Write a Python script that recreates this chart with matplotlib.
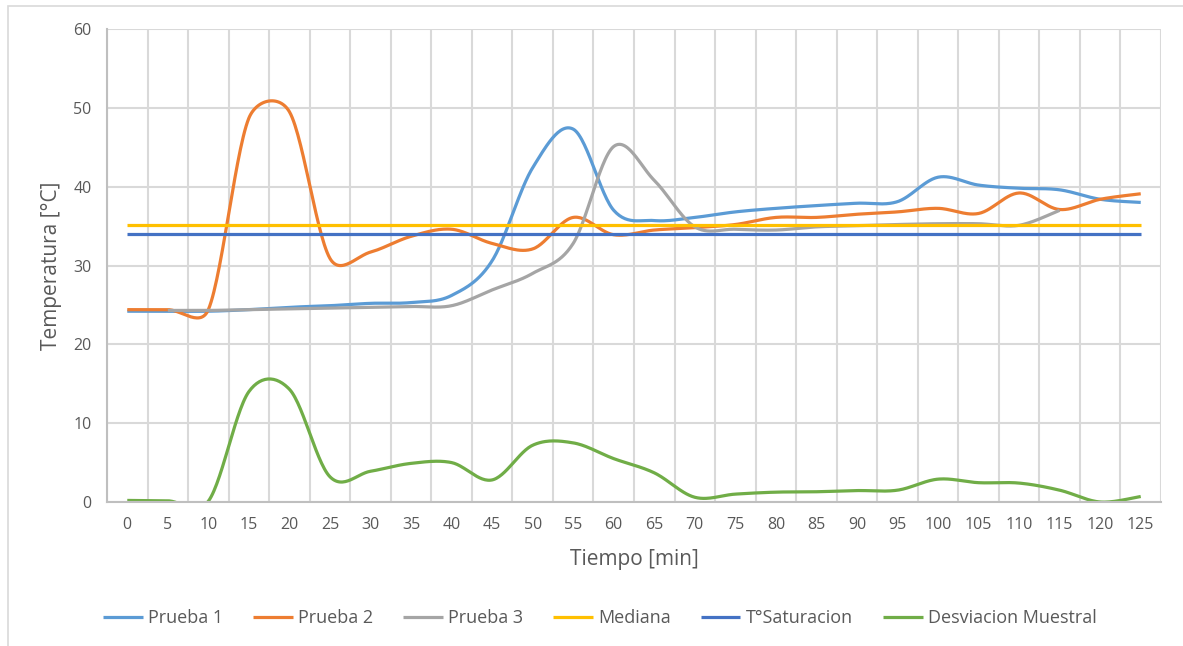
import matplotlib
matplotlib.use('Agg')
import matplotlib.pyplot as plt
import numpy as np
from matplotlib.patches import Rectangle

nan = np.nan

tiempo = [0, 5, 10, 15, 20, 25, 30, 35, 40, 45, 50, 55, 60,
          65, 70, 75, 80, 85, 90, 95, 100, 105, 110, 115, 120, 125]

prueba_1 = [24.2, 24.2, 24.2, 24.4, 24.7, 24.9, 25.2, 25.3, 26.2, 30.6, 42.4, 47.3, 37.0,
            35.7, 36.1, 36.8, 37.25, 37.6, 37.9, 38.1, 41.2, 40.2, 39.8, 39.6, 38.4, 38.0]
prueba_2 = [24.4, 24.4, 24.4, 48.7, 49.5, 30.9, 31.7, 33.7, 34.6, 32.8, 32.1, 36.1, 33.9,
            34.5, 34.8, 35.2, 36.1, 36.1, 36.5, 36.8, 37.25, 36.6, 39.2, 37.1, 38.4, 39.1]
prueba_3 = [nan, 24.3, 24.3, 24.4, 24.5, 24.6, 24.7, 24.8, 24.9, 26.9, 29.0, 32.8, 45.1,
            40.8, 34.9, 34.6, 34.5, 34.9, 35.05, 35.2, 35.3, 35.3, 35.1, 37.0, nan, nan]
mediana = [35.1, 35.1, 35.1, 35.1, 35.1, 35.1, 35.1, 35.1, 35.1, 35.1, 35.1, 35.1, 35.1,
           35.1, 35.1, 35.1, 35.1, 35.1, 35.1, 35.1, 35.1, 35.1, 35.1, 35.1, 35.1, 35.1]
t_saturacion = [34.0, 34.0, 34.0, 34.0, 34.0, 34.0, 34.0, 34.0, 34.0, 34.0, 34.0, 34.0, 34.0,
                34.0, 34.0, 34.0, 34.0, 34.0, 34.0, 34.0, 34.0, 34.0, 34.0, 34.0, 34.0, 34.0]
desviacion = [0.2, 0.15, 0.1, 14.0, 14.3, 3.2, 3.9, 4.9, 5.0, 2.8, 7.2, 7.5, 5.5,
              3.7, 0.6, 1.0, 1.25, 1.3, 1.45, 1.5, 2.9, 2.45, 2.4, 1.5, 0.0, 0.7]

series = [
    ('Prueba 1', prueba_1, '#5B9BD5'),
    ('Prueba 2', prueba_2, '#ED7D31'),
    ('Prueba 3', prueba_3, '#A5A5A5'),
    ('Mediana', mediana, '#FFC000'),
    ('T°Saturacion', t_saturacion, '#4472C4'),
    ('Desviacion Muestral', desviacion, '#70AD47'),
]

TXT = '#595959'
GRID = '#D9D9D9'

plt.rcParams['font.family'] = ['Open Sans', 'DejaVu Sans']

fig = plt.figure(figsize=(11.83, 6.46), dpi=100)
ax = fig.add_axes([107 / 1183, 1 - 502 / 646, 1054 / 1183, 473 / 646])

# outer chart frame (left and top edges only)
fig.patches.append(Rectangle((8 / 1183, -0.1), 1.2, 1.1 - 6 / 646, transform=fig.transFigure,
                             fill=False, edgecolor=GRID, linewidth=1.2))

n_cat = len(tiempo)
ax.set_xlim(-0.5, n_cat - 0.5)
ax.set_ylim(0, 60)
ax.set_yticks(np.arange(0, 61, 10))
ax.set_xticks(np.arange(n_cat))
ax.set_xticklabels([str(t) for t in tiempo])
ax.set_xticks(np.arange(n_cat + 1) - 0.5, minor=True)
ax.tick_params(axis='both', which='both', length=0, colors=TXT, labelsize=11.5)
ax.tick_params(axis='y', pad=11)
ax.tick_params(axis='x', pad=11)
ax.grid(True, axis='y', which='major', color=GRID, linewidth=1.5)
ax.grid(True, axis='x', which='minor', color=GRID, linewidth=1.5)
ax.set_axisbelow(True)
for side in ['top', 'right']:
    ax.spines[side].set_visible(False)
for side in ['left', 'bottom']:
    ax.spines[side].set_color('#BFBFBF')
    ax.spines[side].set_linewidth(1.5)

ax.set_xlabel('Tiempo [min]', color=TXT, fontsize=15, labelpad=11)
ax.set_ylabel('Temperatura [°C]', color=TXT, fontsize=15, labelpad=8)


def smooth_line(ys, steps=30):
    # Excel-style smoothed line: Catmull-Rom beziers in screen space,
    # control arms capped at half the segment length
    idx = np.arange(len(ys), dtype=float)
    pts = ax.transData.transform(np.column_stack([idx, np.asarray(ys, float)]))
    ok = np.isfinite(np.asarray(ys, float))
    t = np.linspace(0, 1, steps)[:, None]
    out = []
    i = 0
    while i < len(ys):
        if not ok[i]:
            i += 1
            continue
        j = i
        while j + 1 < len(ys) and ok[j + 1]:
            j += 1
        run = pts[i:j + 1]
        for k in range(len(run) - 1):
            p0 = run[k - 1] if k > 0 else run[k]
            p1, p2 = run[k], run[k + 1]
            p3 = run[k + 2] if k + 2 < len(run) else run[k + 1]
            d12 = np.hypot(*(p2 - p1))
            a = (p2 - p0) / 6
            b = (p3 - p1) / 6
            if np.hypot(*a) > d12 / 2:
                a = a / np.hypot(*a) * d12 / 2
            if np.hypot(*b) > d12 / 2:
                b = b / np.hypot(*b) * d12 / 2
            c1, c2 = p1 + a, p2 - b
            seg = ((1 - t) ** 3) * p1 + 3 * ((1 - t) ** 2) * t * c1 + 3 * (1 - t) * t ** 2 * c2 + t ** 3 * p2
            out.append(seg)
        out.append(np.array([[nan, nan]]))
        i = j + 1
    curve = np.vstack(out)
    return ax.transData.inverted().transform(curve)


for name, vals, color in series:
    c = smooth_line(vals)
    ax.plot(c[:, 0], c[:, 1], color=color, linewidth=2.3, label=name, solid_capstyle='butt')

handles, labels = ax.get_legend_handles_labels()
leg = fig.legend(handles, labels, loc='center', bbox_to_anchor=(0.507, 1 - 618 / 646), ncol=6,
                 frameon=False, fontsize=13, handlelength=2.2, handletextpad=0.3, columnspacing=1.65)
for txt in leg.get_texts():
    txt.set_color(TXT)

fig.savefig('out.png', dpi=100)
